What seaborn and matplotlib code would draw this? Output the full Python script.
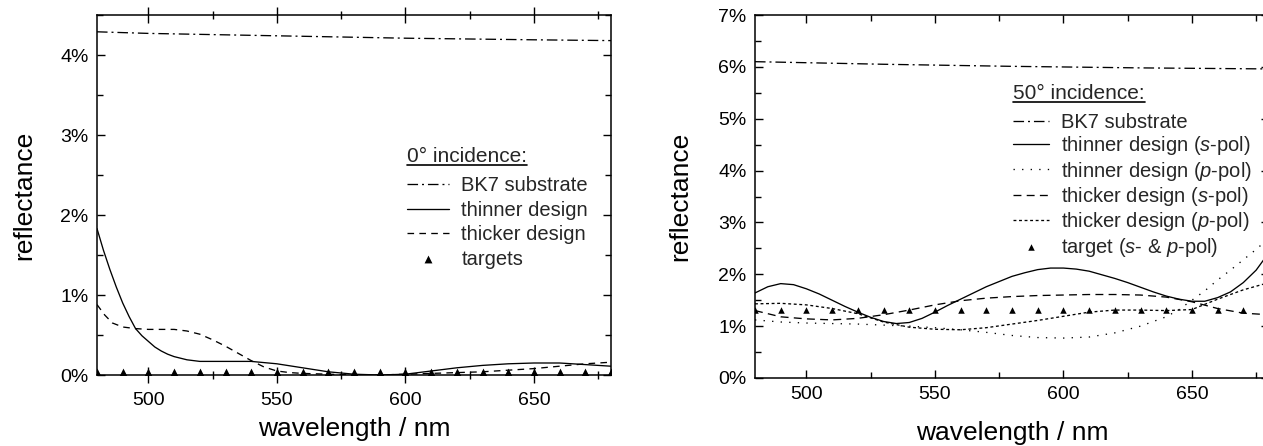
import numpy as np
import pandas as pd
import seaborn as sns
import matplotlib
matplotlib.use("Agg")
import matplotlib.pyplot as plt
from matplotlib.lines import Line2D
from matplotlib.collections import PathCollection
from matplotlib.ticker import MultipleLocator, FuncFormatter

# ---------------- data: 0 deg incidence ----------------
wl0_bk7 = [480, 500, 550, 600, 650, 680]
r0_bk7 = [4.29, 4.27, 4.24, 4.21, 4.19, 4.18]

wl0_thin = [480, 482.5, 485, 487.5, 490, 492.5, 495, 497.5, 500, 502.5, 505, 507.5, 510, 515, 520,
            530, 540, 550, 560, 570, 580, 590, 600, 610, 620, 630, 640, 650, 660, 670, 680]
r0_thin = [1.83, 1.56, 1.32, 1.10, 0.90, 0.73, 0.58, 0.49, 0.42, 0.35, 0.30, 0.26, 0.23, 0.19, 0.17,
           0.17, 0.17, 0.14, 0.09, 0.04, 0.01, 0.00, 0.01, 0.05, 0.09, 0.12, 0.14, 0.15, 0.15, 0.13, 0.11]

wl0_thick = [480, 483, 486, 490, 495, 500, 505, 510, 515, 520, 525, 530, 535, 540, 545,
             550, 555, 560, 570, 580, 590, 600, 610, 620, 630, 640, 650, 660, 670, 680]
r0_thick = [0.88, 0.75, 0.65, 0.60, 0.58, 0.57, 0.57, 0.57, 0.55, 0.51, 0.44, 0.36, 0.27, 0.18, 0.10,
            0.05, 0.03, 0.02, 0.01, 0.00, 0.00, 0.01, 0.02, 0.03, 0.04, 0.06, 0.08, 0.11, 0.14, 0.16]

wl0_target = [480, 490, 500, 510, 520, 530, 540, 550, 560, 570, 580, 590, 600, 610,
              620, 630, 640, 650, 660, 670, 680]
r0_target = [0.04] * len(wl0_target)

# ---------------- data: 50 deg incidence ----------------
wl50_bk7 = [480, 530, 580, 630, 680]
r50_bk7 = [6.10, 6.05, 6.01, 5.98, 5.96]

wl50_thin_s = [480, 485, 490, 495, 500, 505, 510, 515, 520, 525, 530, 535, 540, 545, 550, 555,
               560, 565, 570, 575, 580, 585, 590, 595, 600, 605, 610, 615, 620, 625, 630, 635,
               640, 645, 650, 655, 660, 665, 670, 675, 680]
r50_thin_s = [1.64, 1.76, 1.82, 1.80, 1.72, 1.62, 1.50, 1.38, 1.27, 1.17, 1.09, 1.05, 1.07, 1.15,
              1.27, 1.40, 1.52, 1.64, 1.76, 1.86, 1.96, 2.03, 2.09, 2.12, 2.12, 2.10, 2.06, 1.99,
              1.92, 1.84, 1.75, 1.66, 1.58, 1.52, 1.48, 1.48, 1.55, 1.66, 1.84, 2.08, 2.42]

wl50_thin_p = [480, 490, 500, 510, 520, 530, 540, 550, 560, 570, 580, 590, 600, 610, 620, 630,
               640, 645, 650, 655, 660, 665, 670, 675, 680]
r50_thin_p = [1.12, 1.08, 1.06, 1.05, 1.04, 1.02, 1.00, 0.97, 0.93, 0.88, 0.82, 0.78, 0.77, 0.79,
              0.87, 1.00, 1.18, 1.32, 1.50, 1.68, 1.89, 2.08, 2.28, 2.48, 2.70]

wl50 = [480, 490, 500, 510, 520, 530, 540, 550, 560, 570, 580, 590, 600, 610, 620, 630,
        640, 650, 660, 670, 680]
r50_thick_s = [1.30, 1.18, 1.14, 1.12, 1.15, 1.22, 1.31, 1.41, 1.49, 1.54, 1.57, 1.59, 1.60, 1.61,
               1.61, 1.60, 1.56, 1.47, 1.34, 1.25, 1.22]
r50_thick_p = [1.43, 1.44, 1.41, 1.34, 1.24, 1.08, 0.98, 0.94, 0.93, 0.97, 1.04, 1.11, 1.19, 1.27,
               1.31, 1.31, 1.30, 1.32, 1.52, 1.70, 1.84]
r50_target = [1.32] * len(wl50)

labels0 = ["BK7 substrate", "thinner design", "thicker design", "targets"]
labels50 = ["BK7 substrate",
            r"thinner design ($\mathit{s}$-pol)",
            r"thinner design ($\mathit{p}$-pol)",
            r"thicker design ($\mathit{s}$-pol)",
            r"thicker design ($\mathit{p}$-pol)",
            r"target ($\mathit{s}$- & $\mathit{p}$-pol)"]

# ---------------- style ----------------
sns.set_theme(style="white")
plt.rcParams["font.family"] = ["Liberation Sans", "DejaVu Sans"]
plt.rcParams["mathtext.fontset"] = "custom"
plt.rcParams["mathtext.rm"] = "Liberation Sans"
plt.rcParams["mathtext.it"] = "Liberation Sans:italic"
plt.rcParams["axes.edgecolor"] = "black"
plt.rcParams["axes.linewidth"] = 1.1

W, H = 1263, 446
fig = plt.figure(figsize=(W / 100, H / 100), dpi=100)

def px_axes(left, top, right, bottom):
    return fig.add_axes([left / W, 1 - bottom / H, (right - left) / W, (bottom - top) / H])

ax0 = px_axes(97, 15, 611, 375)
ax1 = px_axes(755, 15, 1269, 378)

LW = 0.95
k = "black"
dashdot = (0, (8, 3, 1.5, 3))
kw = dict(color=k, lw=LW, errorbar=None, sort=True)

# left panel
sns.lineplot(x=wl0_bk7, y=r0_bk7, ax=ax0, linestyle=dashdot, **kw)
sns.lineplot(x=wl0_thin, y=r0_thin, ax=ax0, linestyle="-", **kw)
sns.lineplot(x=wl0_thick, y=r0_thick, ax=ax0, linestyle=(0, (5, 4)), **kw)
sns.scatterplot(x=wl0_target, y=r0_target, ax=ax0, color=k, marker="^", s=32, linewidth=0, zorder=3)

# right panel
sns.lineplot(x=wl50_bk7, y=r50_bk7, ax=ax1, linestyle=dashdot, **kw)
sns.lineplot(x=wl50_thin_s, y=r50_thin_s, ax=ax1, linestyle="-", **kw)
sns.lineplot(x=wl50_thin_p, y=r50_thin_p, ax=ax1, linestyle=(0, (1, 5.5)), **kw)
sns.lineplot(x=wl50, y=r50_thick_s, ax=ax1, linestyle=(0, (6, 4)), **kw)
sns.lineplot(x=wl50, y=r50_thick_p, ax=ax1, linestyle=(0, (2.2, 2)), **kw)
sns.scatterplot(x=wl50, y=r50_target, ax=ax1, color=k, marker="^", s=22, linewidth=0, zorder=3)

pct = FuncFormatter(lambda v, p: f"{v:.0f}%")
for ax, ymax in ((ax0, 4.5), (ax1, 7.0)):
    ax.set_xlim(480, 680)
    ax.set_ylim(0, ymax)
    ax.xaxis.set_major_locator(MultipleLocator(50))
    ax.xaxis.set_minor_locator(MultipleLocator(25))
    ax.yaxis.set_major_locator(MultipleLocator(1))
    ax.yaxis.set_minor_locator(MultipleLocator(0.5))
    ax.yaxis.set_major_formatter(pct)
    ax.tick_params(which="both", direction="in", top=True, right=True, bottom=True, left=True,
                   color=k, width=1.0, labelsize=14, labelcolor=k)
    ax.tick_params(which="major", length=6)
    ax.tick_params(which="minor", length=4)
    ax.tick_params(axis="x", which="major", pad=6)
    ax.tick_params(axis="y", which="major", pad=6)
    for s in ax.spines.values():
        s.set_visible(True)
        s.set_color(k)
    ax.set_facecolor("white")
    ax.set_xlabel("wavelength / nm", fontsize=19, color=k)
    ax.set_ylabel("reflectance", fontsize=19, color=k)

ax0.tick_params(axis="x", which="major", direction="inout", length=12)
ax0.tick_params(axis="x", which="minor", direction="inout", length=6)
ax0.xaxis.labelpad = 6
ax1.xaxis.labelpad = 13
ax0.yaxis.labelpad = 17
ax1.yaxis.labelpad = 19

def make_legend(ax, labels, title, anchor, hlen, ls):
    lines = list(ax.get_lines())
    pts = [c for c in ax.collections if isinstance(c, PathCollection)]
    leg = ax.legend(lines + pts, labels, title=title, loc="upper left", bbox_to_anchor=anchor,
                    frameon=False, fontsize=14.5, title_fontsize=15, alignment="left",
                    handlelength=hlen, handletextpad=0.6, labelspacing=ls, borderpad=0,
                    borderaxespad=0, markerscale=1.0)
    leg._legend_box.sep = 7
    return leg

leg0 = make_legend(ax0, labels0, "0° incidence:", (0.603, 0.632), 2.1, 0.27)
leg1 = make_legend(ax1, labels50, "50° incidence:", (0.502, 0.81), 1.8, 0.12)

fig.canvas.draw()
for leg in (leg0, leg1):
    bb = leg.get_title().get_window_extent()
    y = bb.y0 + 1
    fig.add_artist(Line2D([bb.x0 / W, bb.x1 / W], [y / H, y / H], transform=fig.transFigure,
                          color=k, lw=1.2))

fig.savefig("out.png", dpi=100, facecolor="white")
